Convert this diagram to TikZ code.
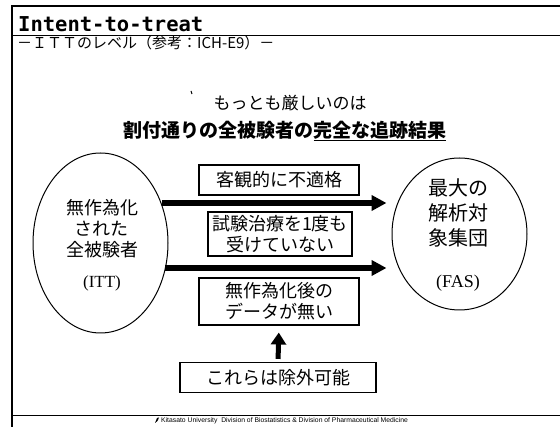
\documentclass[tikz,border=0pt]{standalone}
\usepackage{fontspec}
\setmainfont{Noto Sans CJK JP}
\newfontfamily\serf{Liberation Serif}
\newfontfamily\monof{DejaVu Sans Mono}
\newfontfamily\footf{Liberation Sans}
\usetikzlibrary{shapes.geometric,arrows.meta}
\begin{document}
\begin{tikzpicture}[x=1pt,y=-1pt,
  box/.style={draw,line width=1.1pt,inner sep=0pt,align=center,font=\fontsize{18}{21}\selectfont},
  oval/.style={draw,ellipse,line width=1pt,inner sep=0pt},
  bigarrow/.style={line width=5.5pt,-{Triangle[length=15pt,width=15pt]}},
  uparrow/.style={line width=5pt,-{Triangle[length=12pt,width=15pt]}},
  frameline/.style={line width=2pt},
  thinline/.style={line width=0.8pt}]
\useasboundingbox[fill=white] (0,0) rectangle (560,427);
% frame
\draw[frameline] (12,427) -- (12,6) -- (560,6);
\draw[thinline] (12,35) -- (560,35);
\draw[thinline] (12,415) -- (560,415);
% title
\node[anchor=base west,inner sep=0pt,font=\monof\bfseries\fontsize{20.5}{20.5}\selectfont] (title) at (18,32) {Intent-to-treat};
\node[anchor=base west,inner sep=0pt,font=\fontsize{15}{15}\selectfont] (sub) at (17,48.5) {－ＩＴＴのレベル（参考：ICH-E9）－};
% headline
\draw[line width=1pt] (191,91) -- (192,94);
\node[inner sep=0pt,font=\fontsize{17}{17}\selectfont] (h1) at (290,103) {もっとも厳しいのは};
\node[inner sep=0pt,font=\bfseries\fontsize{19}{19}\selectfont] (h2) at (285,131) {割付通りの全被験者の\underline{完全な追跡結果}};
% ellipses
\node[oval,minimum width=135pt,minimum height=180pt] (L) at (100.5,243) {};
\node[inner sep=0pt,align=center,font=\fontsize{18}{21}\selectfont] (Lt) at (102,229) {無作為化\\された\\全被験者};
\node[inner sep=0pt,font=\serf\fontsize{17}{17}\selectfont] (Litt) at (102,283) {(ITT)};
\node[oval,minimum width=135pt,minimum height=152pt] (R) at (459.5,234) {};
\node[inner sep=0pt,align=center,font=\fontsize{20}{25}\selectfont] (Rt) at (458,213) {最大の\\解析対\\象集団};
\node[inner sep=0pt,font=\serf\fontsize{18}{18}\selectfont] (Rfas) at (458,283) {(FAS)};
% boxes
\node[box,minimum width=160pt,minimum height=30pt] (B1) at (279,180) {客観的に不適格};
\node[box,minimum width=144pt,minimum height=44pt] (B2) at (280,234) {試験治療を1度も\\受けていない};
\node[box,minimum width=160pt,minimum height=47pt] (B3) at (279,301.5) {無作為化後の\\データが無い};
\node[box,minimum width=196pt,minimum height=30pt] (B4) at (278,377.5) {これらは除外可能};
% arrows
\coordinate (a1s) at (162,203);
\coordinate (a2s) at (165,268);
\draw[bigarrow,shorten >=5pt] (a1s) -- (R.west |- a1s);
\draw[bigarrow,shorten >=5pt] (a2s) -- (R.west |- a2s);
\draw[uparrow,shorten >=7pt,shorten <=3pt] (B4.north) -- (B3.south);
% footer
\fill (155,423) -- (157,418) -- (159,417.5) -- (157.5,421) -- cycle;
\node[anchor=west,inner sep=0pt,font=\footf\fontsize{6.8}{6.8}\selectfont] (foot) at (161,421) {Kitasato University\ \ Division of Biostatistics \& Division of Pharmaceutical Medicine};
\end{tikzpicture}
\end{document}
